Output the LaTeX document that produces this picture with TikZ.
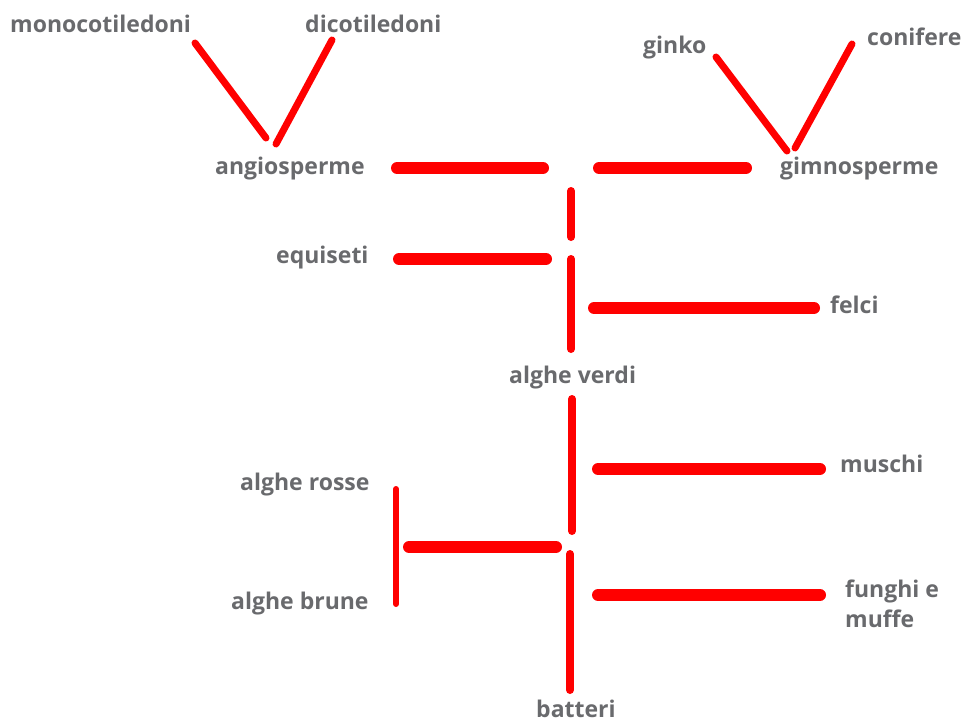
\documentclass[tikz,border=0pt]{standalone}
\usepackage{fontspec}
\setmainfont{Open Sans}
\definecolor{txtgray}{RGB}{105,106,109}
\definecolor{barred}{RGB}{255,0,0}
\begin{document}
\begin{tikzpicture}[x=1pt,y=-1pt,
  lbl/.style={anchor=base west,inner sep=0pt,text=txtgray,font=\fontsize{23}{30}\selectfont\bfseries},
  hbar/.style={draw=barred,line width=12pt,line cap=round},
  vbar/.style={draw=barred,line width=8pt,line cap=round},
  dbar/.style={draw=barred,line width=7pt,line cap=round},
  tbar/.style={draw=barred,line width=6pt,line cap=round}]
\useasboundingbox (0,0) rectangle (966,725);
% labels
\node[lbl] (mono) at (10,33) {monocotiledoni};
\node[lbl] (dico) at (305,33) {dicotiledoni};
\node[lbl] (angio) at (215,174) {angiosperme};
\node[lbl] (ginko) at (643,54) {ginko};
\node[lbl] (conif) at (867,46) {conifere};
\node[lbl] (gimno) at (780,174) {gimnosperme};
\node[lbl] (equis) at (276,263) {equiseti};
\node[lbl] (felci) at (830,313) {felci};
\node[lbl] (verdi) at (509,383) {alghe verdi};
\node[lbl] (musch) at (840,472) {muschi};
\node[lbl] (rosse) at (240,490) {alghe rosse};
\node[lbl] (brune) at (231,609) {alghe brune};
\node[lbl,align=left,anchor=north west] (fungh) at (845,580) {funghi e\\muffe};
\node[lbl] (batt) at (536,717) {batteri};
% bar end points
\coordinate (m1) at (195,43);  \coordinate (m2) at (266,138);
\coordinate (d1) at (332,40);  \coordinate (d2) at (276,144);
\coordinate (g1) at (716,57);  \coordinate (g2) at (787,151);
\coordinate (c1) at (852,44);  \coordinate (c2) at (795,148);
\coordinate (a1) at (397,168); \coordinate (a2) at (543,168);
\coordinate (s1) at (599,168); \coordinate (s2) at (746,168);
\coordinate (v1a) at (571,191); \coordinate (v1b) at (571,237);
\coordinate (e1) at (399,259); \coordinate (e2) at (546,259);
\coordinate (v2a) at (571,259); \coordinate (v2b) at (571,349);
\coordinate (f1) at (594,308); \coordinate (f2) at (814,308);
\coordinate (v3a) at (572,399); \coordinate (v3b) at (572,531);
\coordinate (mu1) at (598,469); \coordinate (mu2) at (820,469);
\coordinate (r1) at (396,489); \coordinate (r2) at (396,604);
\coordinate (rb1) at (409,547); \coordinate (rb2) at (556,547);
\coordinate (v4a) at (570,554); \coordinate (v4b) at (570,690);
\coordinate (fu1) at (598,595); \coordinate (fu2) at (820,595);
% bars
\draw[dbar] (m1) -- (m2);
\draw[dbar] (d1) -- (d2);
\draw[dbar] (g1) -- (g2);
\draw[dbar] (c1) -- (c2);
\draw[hbar] (a1) -- (a2);
\draw[hbar] (s1) -- (s2);
\draw[vbar] (v1a) -- (v1b);
\draw[hbar] (e1) -- (e2);
\draw[vbar] (v2a) -- (v2b);
\draw[hbar] (f1) -- (f2);
\draw[vbar] (v3a) -- (v3b);
\draw[hbar] (mu1) -- (mu2);
\draw[tbar] (r1) -- (r2);
\draw[hbar] (rb1) -- (rb2);
\draw[vbar] (v4a) -- (v4b);
\draw[hbar] (fu1) -- (fu2);
\end{tikzpicture}
\end{document}
